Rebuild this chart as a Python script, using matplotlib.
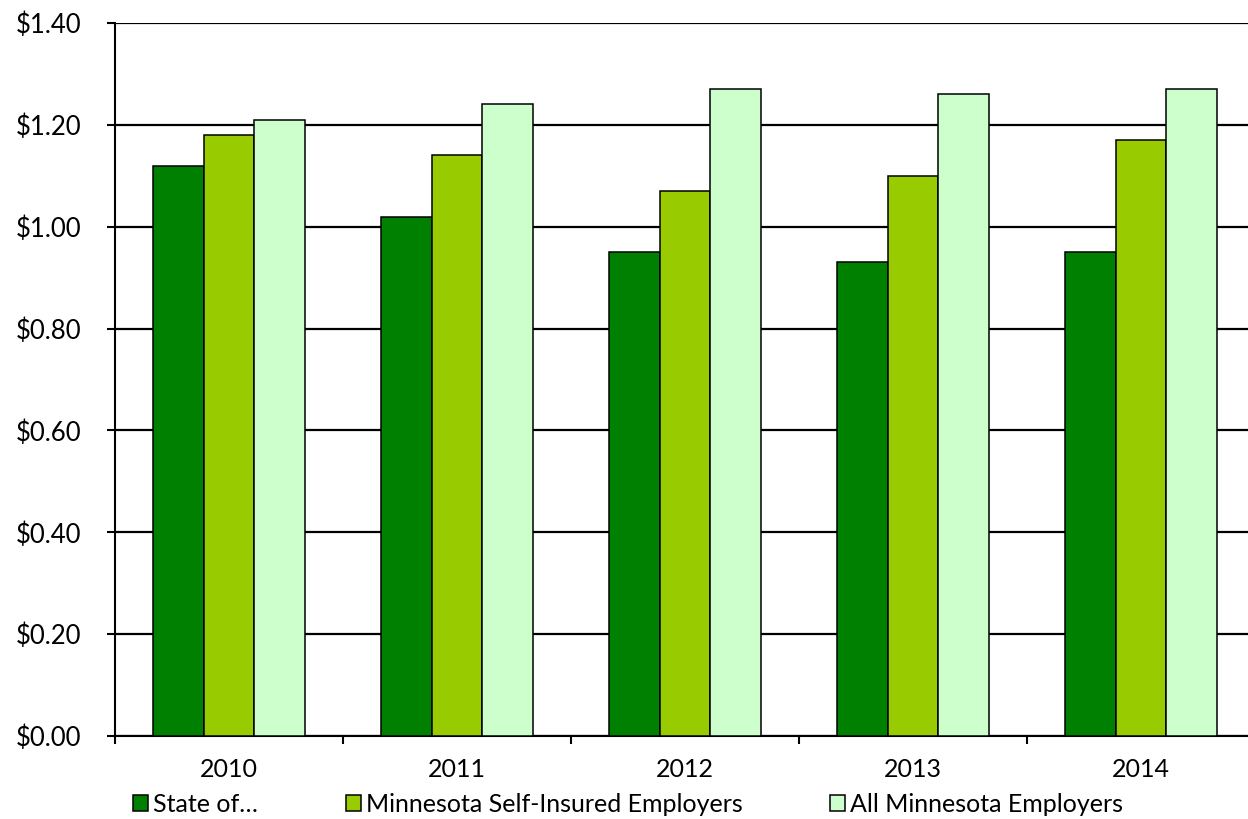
import matplotlib.pyplot as plt
import numpy as np
from matplotlib.patches import Patch
from matplotlib.ticker import FuncFormatter, MultipleLocator

plt.rcParams['font.family'] = ['Lato', 'DejaVu Sans']

years = ['2010', '2011', '2012', '2013', '2014']
state = [1.12, 1.02, 0.95, 0.93, 0.95]
self_insured = [1.18, 1.14, 1.07, 1.10, 1.17]
all_employers = [1.21, 1.24, 1.27, 1.26, 1.27]
series_names = ['State of…', 'Minnesota Self-Insured Employers', 'All Minnesota Employers']
colors = ['#008000', '#99CC00', '#CCFFCC']

fig = plt.figure(figsize=(12.48, 8.19), dpi=100)
# axes run a bit past the right edge, the last category is partly cut off
ax = fig.add_axes([115 / 1248, 1 - 736 / 819, 1140 / 1248, 713 / 819])

x = np.arange(len(years))
w = 0.223
for i, vals in enumerate([state, self_insured, all_employers]):
    ax.bar(x + (i - 1) * w, vals, w, color=colors[i], edgecolor='black',
           linewidth=1.1, zorder=3)

ax.set_ylim(0, 1.4)
ax.set_xlim(-0.5, len(years) - 0.5)
ax.yaxis.set_major_locator(MultipleLocator(0.2))
ax.yaxis.set_major_formatter(FuncFormatter(lambda v, p: f'${v:.2f}'))
ax.grid(axis='y', color='black', linewidth=1.6, zorder=0)
ax.set_axisbelow(True)

ax.set_xticks(x)
ax.set_xticklabels(years)
ax.set_xticks(np.arange(len(years) + 1) - 0.5, minor=True)
ax.tick_params(axis='x', which='major', length=0, pad=16, labelsize=18)
ax.tick_params(axis='x', which='minor', length=6, width=1.5, direction='out')
ax.tick_params(axis='y', length=6, width=1.5, labelsize=18.5, pad=18)

for s in ['top', 'right']:
    ax.spines[s].set_visible(False)
ax.spines['left'].set_linewidth(1.5)
ax.spines['bottom'].set_linewidth(1.5)

handles = [Patch(facecolor=c, edgecolor='black', linewidth=1.1) for c in colors]
fig.legend(handles, series_names, loc='center', bbox_to_anchor=(628 / 1248, 1 - 804 / 819),
           ncol=3, frameon=False, fontsize=18, handlelength=0.6, handleheight=0.6,
           handletextpad=0.2, columnspacing=3.5, borderpad=0)

fig.savefig('out.png', dpi=100)
